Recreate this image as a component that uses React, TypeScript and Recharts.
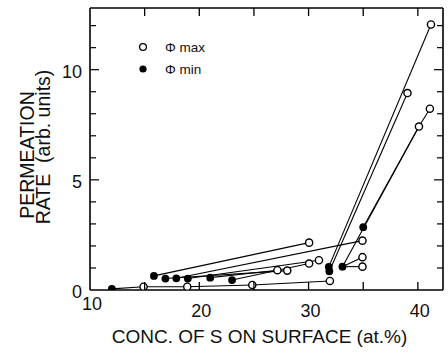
import React from 'react';
import { ScatterChart, Scatter, XAxis, YAxis, Legend } from 'recharts';

// Φmin (filled circles)
const phiMinConc = [12.0, 15.85, 16.9, 17.9, 18.95, 21.0, 23.0, 31.85, 31.9, 33.1, 35.0];
const phiMinRate = [0.05, 0.64, 0.52, 0.53, 0.52, 0.56, 0.45, 1.05, 0.85, 1.06, 2.85];
// Φmax (open circles)
const phiMaxConc = [14.9, 18.9, 24.85, 27.15, 28.05, 30.05, 30.95, 30.05, 31.95, 34.93, 34.93, 34.93, 39.05, 40.1, 41.1, 41.2];
const phiMaxRate = [0.15, 0.15, 0.23, 0.9, 0.88, 1.2, 1.35, 2.15, 0.41, 2.24, 1.49, 1.06, 8.94, 7.42, 8.23, 12.05];
// connecting segments: n = Φmin index, x = Φmax index
const linkStart = ['n0', 'n1', 'n2', 'n3', 'n4', 'n5', 'n6', 'n7', 'n8', 'n9', 'n9', 'n9', 'n10', 'x13', 'x0', 'x1', 'x2'];
const linkEnd = ['x0', 'x7', 'x4', 'x9', 'x6', 'x3', 'x5', 'x15', 'x12', 'x10', 'x11', 'x13', 'x13', 'x14', 'x1', 'x2', 'x8'];

const xTicks = [10, 15, 20, 25, 30, 35, 40];
const xLabels = [10, 20, 30, 40];
const yTicks = [0, 1, 2, 3, 4, 5, 6, 7, 8, 9, 10, 11, 12];
const yLabels = [0, 5, 10];

const FONT = '"Liberation Sans", Arial, sans-serif';

const minData = phiMinConc.map((c, i) => ({ c, r: phiMinRate[i] }));
const maxData = phiMaxConc.map((c, i) => ({ c, r: phiMaxRate[i] }));
const pt = (ref: string) => {
  const idx = parseInt(ref.slice(1), 10);
  return ref[0] === 'n' ? minData[idx] : maxData[idx];
};
const segments = linkStart.map((s, i) => [pt(s), pt(linkEnd[i])]);

const BottomTick = (p: any) => {
  const { x, y, payload } = p;
  const v = payload.value;
  return (
    <g>
      {v !== 10 && <line x1={x} x2={x} y1={y} y2={y - 8} stroke="#000" strokeWidth={1.3} />}
      {xLabels.includes(v) && (
        <text x={x + 2} y={v === 10 ? y + 14 : y + 21} textAnchor="middle" dominantBaseline="central"
          fontFamily={FONT} fontSize={18} fill="#111">{v}</text>
      )}
    </g>
  );
};
const TopTick = (p: any) => {
  const { x, y, payload } = p;
  if (payload.value === 10) return <g />;
  return <line x1={x} x2={x} y1={y} y2={y + 8} stroke="#000" strokeWidth={1.3} />;
};
const LeftTick = (p: any) => {
  const { x, y, payload } = p;
  const v = payload.value;
  const len = v % 5 === 0 ? 9 : 6;
  return (
    <g>
      {v !== 0 && <line x1={x} x2={x + len} y1={y} y2={y} stroke="#000" strokeWidth={1.2} />}
      {yLabels.includes(v) && (
        <text x={x - 8} y={y + 2} textAnchor="end" dominantBaseline="central"
          fontFamily={FONT} fontSize={18} fill="#111">{v}</text>
      )}
    </g>
  );
};
const RightTick = (p: any) => {
  const { x, y, payload } = p;
  const v = payload.value;
  if (v === 0) return <g />;
  const len = v % 5 === 0 ? 9 : 6;
  return <line x1={x} x2={x - len} y1={y} y2={y} stroke="#000" strokeWidth={1.2} />;
};

const XTitle = (p: any) => {
  const vb = p.viewBox;
  return (
    <text x={vb.x + vb.width / 2 - 7} y={336} textAnchor="middle" dominantBaseline="central"
      fontFamily={FONT} fontSize={19} fill="#111">CONC. OF S ON SURFACE (at.%)</text>
  );
};
const YTitle = () => (
  <g>
    <text x={27} y={155} transform="rotate(-90 27 155)" textAnchor="middle" dominantBaseline="central"
      fontFamily={FONT} fontSize={19.5} fill="#111">PERMEATION</text>
    <text x={43} y={147} transform="rotate(-90 43 147)" textAnchor="middle" dominantBaseline="central"
      fontFamily={FONT} fontSize={19.5} fill="#111" style={{ whiteSpace: 'pre' }}>RATE  (arb. units)</text>
  </g>
);

const LegendBox = () => (
  <svg width={100} height={50} style={{ display: 'block' }}>
    <circle cx={13} cy={11} r={3.4} fill="#fff" stroke="#000" strokeWidth={1.3} />
    <text x={35} y={11} dominantBaseline="central" fontFamily={FONT} fontSize={13.5} fill="#111">Φ max</text>
    <circle cx={13} cy={33} r={3.6} fill="#000" />
    <text x={35} y={33} dominantBaseline="central" fontFamily={FONT} fontSize={13.5} fill="#111">Φ min</text>
  </svg>
);

const OpenDot = (p: any) => (
  <circle cx={p.cx} cy={p.cy} r={3.6} fill="#fff" stroke="#000" strokeWidth={1.4} />
);
const FilledDot = (p: any) => <circle cx={p.cx} cy={p.cy} r={3.9} fill="#000" />;
const NoDot = () => <g />;

export default function App() {
  return (
    <div style={{ position: 'absolute', left: 0, top: 0, width: 448, height: 353, background: '#fff' }}>
      <ScatterChart width={448} height={353} margin={{ top: 7, right: 4, left: 0, bottom: 0 }}>
        <XAxis xAxisId="b" type="number" dataKey="c" domain={[10, 42.3]} ticks={xTicks} interval={0}
          orientation="bottom" height={63} tickSize={0} tickMargin={0} tick={<BottomTick />}
          axisLine={{ stroke: '#000', strokeWidth: 1.6 }} allowDataOverflow
          label={{ content: <XTitle /> }} />
        <XAxis xAxisId="t" type="number" dataKey="c" domain={[10, 42.3]} ticks={xTicks} interval={0}
          orientation="top" height={1} tickSize={0} tickMargin={0} tick={<TopTick />}
          axisLine={{ stroke: '#000', strokeWidth: 1.6 }} allowDataOverflow />
        <YAxis yAxisId="l" type="number" dataKey="r" domain={[0, 12.8]} ticks={yTicks} interval={0}
          orientation="left" width={90} tickSize={0} tickMargin={0} tick={<LeftTick />}
          axisLine={{ stroke: '#000', strokeWidth: 1.6 }} allowDataOverflow
          label={{ content: <YTitle /> }} />
        <YAxis yAxisId="r" type="number" dataKey="r" domain={[0, 12.8]} ticks={yTicks} interval={0}
          orientation="right" width={1} tickSize={0} tickMargin={0} tick={<RightTick />}
          axisLine={{ stroke: '#000', strokeWidth: 1.6 }} allowDataOverflow />
        <Legend layout="vertical" align="center" verticalAlign="middle"
          wrapperStyle={{ left: 130, top: 36, width: 100, height: 50 }} content={() => <LegendBox />} />
        {segments.map((seg, i) => (
          <Scatter key={'s' + i} xAxisId="b" yAxisId="l" data={seg} dataKey="r" line={{ stroke: '#000', strokeWidth: 1.1 }}
            lineType="joint" shape={<NoDot />} isAnimationActive={false} legendType="none" />
        ))}
        <Scatter xAxisId="b" yAxisId="l" data={maxData} dataKey="r" shape={<OpenDot />} isAnimationActive={false} name="Φ max" />
        <Scatter xAxisId="b" yAxisId="l" data={minData} dataKey="r" shape={<FilledDot />} isAnimationActive={false} name="Φ min" />
        <Scatter xAxisId="t" yAxisId="r" data={[]} dataKey="r" isAnimationActive={false} legendType="none" />
      </ScatterChart>
    </div>
  );
}
